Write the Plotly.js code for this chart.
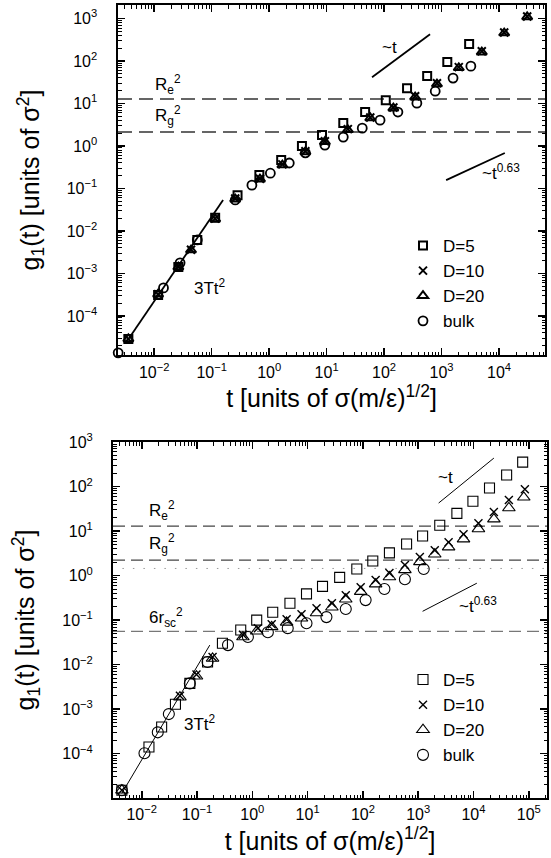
<!DOCTYPE html>
<html><head><meta charset="utf-8">
<script src="https://cdn.plot.ly/plotly-3.0.1.min.js"></script>
<style>html,body{margin:0;padding:0;background:#fff}</style>
</head><body><div id="chart" style="width:551px;height:858px"></div>
<script>
// ---------------- TOP PANEL DATA ----------------
const topD5_t  = [0.00355, 0.0117, 0.0263, 0.0562, 0.115, 0.282, 0.676, 1.62, 3.72, 8.32, 19.5, 46.8, 107, 251, 562, 1259, 3020];
const topD5_g  = [2.88e-5, 3.09e-4, 1.41e-3, 6.17e-3, 0.0204, 0.0692, 0.209, 0.468, 1.00, 1.82, 3.47, 6.31, 12.0, 22.9, 44.7, 95.5, 251];
const topD10_t = [0.00355, 0.0117, 0.0263, 0.0437, 0.115, 0.257, 0.692, 1.70, 4.27, 9.33, 23.4, 57.5, 145, 347, 832, 1995, 5012, 12300, 30900];
const topD10_g = [2.88e-5, 3.24e-4, 1.45e-3, 3.6e-3, 0.0195, 0.058, 0.17, 0.37, 0.75, 1.3, 2.5, 4.7, 8.1, 14.8, 30, 72, 170, 470, 1120];
const topD20_t = [0.00355, 0.0117, 0.0263, 0.0437, 0.115, 0.257, 0.692, 1.70, 4.27, 9.33, 23.4, 57.5, 145, 347, 832, 1995, 5012, 12300, 30900];
const topD20_g = [2.88e-5, 3.24e-4, 1.41e-3, 3.55e-3, 0.0191, 0.0562, 0.166, 0.355, 0.724, 1.26, 2.40, 4.57, 7.76, 14.1, 28.8, 69.2, 162, 457, 1096];
const topBulk_t = [0.00236, 0.0145, 0.0282, 0.0562, 0.257, 0.501, 1.05, 2.24, 4.27, 9.33, 19.5, 41.7, 85.1, 174, 372, 776, 1585, 3236];
const topBulk_g = [1.35e-5, 4.57e-4, 1.78e-3, 6.17e-3, 0.0537, 0.120, 0.229, 0.398, 0.692, 1.05, 1.62, 2.63, 4.07, 6.31, 10.2, 19.5, 39.8, 75.9];
const topFit_t  = [0.0038, 0.158];      const topFit_g  = [3.24e-5, 0.0537];   // 3Tt^2
const topSlope1_t = [61.7, 631];       const topSlope1_g = [41.7, 427];       // ~t
const topSlope063_t = [1202, 12600];   const topSlope063_g = [0.158, 0.684];  // ~t^0.63
const topRe2 = 12.8, topRg2 = 2.14;

// ---------------- BOTTOM PANEL DATA ----------------
const botD5_t  = [0.00437, 0.0135, 0.0229, 0.0407, 0.0741, 0.155, 0.288, 0.617, 1.20, 2.34, 4.79, 9.55, 18.6, 38.0, 77.6, 151, 302, 617, 1202, 2455, 5012, 9772, 19500, 39800, 77600];
const botD5_g  = [1.51e-5, 1.41e-4, 3.98e-4, 1.29e-3, 3.80e-3, 0.0115, 0.0302, 0.0603, 0.100, 0.151, 0.240, 0.389, 0.575, 0.912, 1.41, 2.14, 3.24, 5.13, 7.76, 13.5, 25.1, 46.8, 93.3, 182, 355];
const botD10_t = [0.00437, 0.049, 0.0977, 0.191, 0.676, 1.26, 2.24, 4.17, 7.76, 14.5, 27.5, 49.0, 91.2, 170, 302, 575, 1072, 1995, 3548, 6607, 12300, 23400, 43700, 85100];
const botD10_g = [1.51e-5, 2.0e-3, 6.03e-3, 0.0148, 0.0468, 0.0661, 0.0813, 0.105, 0.135, 0.186, 0.240, 0.363, 0.550, 0.794, 1.15, 1.74, 2.63, 3.72, 5.62, 8.51, 15.1, 26.9, 50.1, 87.1];
const botD20_t = [0.00437, 0.049, 0.0977, 0.191, 0.676, 1.20, 2.24, 4.17, 7.76, 14.5, 27.5, 49.0, 91.2, 170, 302, 575, 1072, 1995, 3548, 6607, 12300, 23400, 43700, 81300];
const botD20_g = [1.51e-5, 1.86e-3, 5.5e-3, 0.0138, 0.0417, 0.0562, 0.0708, 0.0891, 0.110, 0.145, 0.195, 0.295, 0.437, 0.646, 0.933, 1.35, 2.04, 3.02, 4.37, 6.61, 11.2, 18.6, 33.1, 57.5];
const botBulk_t = [0.00437, 0.0112, 0.0195, 0.0309, 0.0741, 0.155, 0.363, 0.832, 1.91, 4.37, 9.55, 21.9, 49.0, 112, 245, 575, 1259];
const botBulk_g = [1.51e-5, 1.02e-4, 3.02e-4, 7.76e-4, 3.80e-3, 0.0115, 0.0275, 0.0417, 0.0537, 0.0661, 0.0851, 0.117, 0.178, 0.282, 0.501, 0.832, 1.41];
const botFit_t  = [0.00437, 0.170];    const botFit_g  = [1.29e-5, 0.0275];
const botSlope1_t = [2344, 23400];     const botSlope1_g = [42.7, 437];
const botSlope063_t = [1202, 11500];   const botSlope063_g = [0.158, 0.676];
const botRe2 = 12.9, botRg2 = 2.24, botDotted = 1.45, bot6rsc2 = 0.056;

const seriesNames = ['D=5', 'D=10', 'D=20', 'bulk'];
const tickAlias = {'1': '10<sup>0</sup>', '10': '10<sup>1</sup>'};

// ---------------- LAYOUT GEOMETRY ----------------
const W = 551, H = 858;
const FONT = 'Liberation Sans, Arial, Helvetica, sans-serif';
const topXR = [-2.63, 4.80], topYR = [-4.92, 3.32];
const botXR = [-2.52, 5.33], botYR = [-4.995, 3.002];

function sym(name, xs, ys, xa, ya, leg, symbol, size, lw, noclip) {
  return {x: xs, y: ys, xaxis: xa, yaxis: ya, legend: leg, name: name, type: 'scatter', mode: 'markers',
    cliponaxis: !noclip,
    marker: {symbol: symbol, size: size, color: '#000', line: {color: '#000', width: lw}}};
}
function line(xs, ys, xa, ya, color, width, dash) {
  return {x: xs, y: ys, xaxis: xa, yaxis: ya, type: 'scatter', mode: 'lines', showlegend: false,
    hoverinfo: 'skip', line: {color: color, width: width, dash: dash || 'solid'}};
}
function hline(level, xr, xa, ya, color, width, dash) {
  return line([Math.pow(10, xr[0]), Math.pow(10, xr[1])], [level, level], xa, ya, color, width, dash);
}

const traces = [
  hline(topRe2, topXR, 'x', 'y', '#333', 1.5, '14px,7px'),
  hline(topRg2, topXR, 'x', 'y', '#333', 1.5, '14px,7px'),
  line(topFit_t, topFit_g, 'x', 'y', '#000', 1.8),
  line(topSlope1_t, topSlope1_g, 'x', 'y', '#000', 1.8),
  line(topSlope063_t, topSlope063_g, 'x', 'y', '#000', 1.8),
  sym(seriesNames[0], topD5_t, topD5_g, 'x', 'y', 'legend', 'square-open', 8, 2),
  sym(seriesNames[1], topD10_t, topD10_g, 'x', 'y', 'legend', 'x-thin-open', 8, 2),
  sym(seriesNames[2], topD20_t, topD20_g, 'x', 'y', 'legend', 'triangle-up-open', 9, 2),
  sym(seriesNames[3], topBulk_t, topBulk_g, 'x', 'y', 'legend', 'circle-open', 9, 1.8, true),

  hline(botRe2, botXR, 'x2', 'y2', '#444', 1.2, '12px,6px'),
  hline(botRg2, botXR, 'x2', 'y2', '#444', 1.2, '12px,6px'),
  hline(botDotted, [-2.35, botXR[1]], 'x2', 'y2', '#999', 1, '1.5px,9px'),
  hline(bot6rsc2, botXR, 'x2', 'y2', '#777', 1.2, '12px,6px'),
  line(botFit_t, botFit_g, 'x2', 'y2', '#000', 1),
  line(botSlope1_t, botSlope1_g, 'x2', 'y2', '#000', 1),
  line(botSlope063_t, botSlope063_g, 'x2', 'y2', '#000', 1),
  sym(seriesNames[0], botD5_t, botD5_g, 'x2', 'y2', 'legend2', 'square-open', 10, 1.1),
  sym(seriesNames[1], botD10_t, botD10_g, 'x2', 'y2', 'legend2', 'x-thin-open', 8, 1.4),
  sym(seriesNames[2], botD20_t, botD20_g, 'x2', 'y2', 'legend2', 'triangle-up-open', 11, 1.1),
  sym(seriesNames[3], botBulk_t, botBulk_g, 'x2', 'y2', 'legend2', 'circle-open', 11, 1.1)
];

function axis(range, dom, anchor, title, isX, lw) {
  return {
    type: 'log', range: range, domain: dom, anchor: anchor,
    showline: true, linecolor: '#000', linewidth: lw, mirror: 'allticks',
    ticks: 'inside', ticklen: 7, tickwidth: 1.5, tickcolor: '#000',
    dtick: 1, exponentformat: 'power', labelalias: tickAlias,
    showgrid: false, zeroline: false,
    minor: {ticks: 'inside', ticklen: 3.5, tickwidth: 1, tickcolor: '#000', showgrid: false},
    tickfont: {family: FONT, size: 12.8, color: '#000'},
    ticklabelstandoff: isX ? 2 : 16,
    title: {text: title, font: {family: FONT, size: 25, color: '#000'}, standoff: isX ? 0 : 20},
    fixedrange: true
  };
}
const yTitle = 'g<sub>1</sub>(t) [units of σ<sup>2</sup>]';
const xTitle = '\u00a0\u00a0\u00a0\u00a0t [units of σ(m/ε)<sup>1/2</sup>]';

function ann(text, x, y, xr, yr, xanchor) {
  return {text: text, x: x, y: y, xref: xr, yref: yr, xanchor: xanchor || 'left', yanchor: 'middle',
    showarrow: false, font: {family: FONT, size: 17, color: '#000'}};
}
const annotations = [
  ann('R<sub>e</sub><sup>2</sup>', -2.02, 1.44, 'x', 'y'),
  ann('R<sub>g</sub><sup>2</sup>', -2.02, 0.73, 'x', 'y'),
  ann('~t', 1.93, 2.33, 'x', 'y'),
  ann('~t<sup>0.63</sup>', 4.40, -0.61, 'x', 'y', 'right'),
  ann('3Tt<sup>2</sup>', -1.34, -3.32, 'x', 'y'),
  ann('R<sub>e</sub><sup>2</sup>', -1.91, 1.47, 'x2', 'y2'),
  ann('R<sub>g</sub><sup>2</sup>', -1.91, 0.73, 'x2', 'y2'),
  ann('6r<sub>sc</sub><sup>2</sup>', -1.91, -0.93, 'x2', 'y2'),
  ann('~t', 3.33, 2.21, 'x2', 'y2'),
  ann('~t<sup>0.63</sup>', 3.70, -0.66, 'x2', 'y2'),
  ann('3Tt<sup>2</sup>', -1.28, -3.31, 'x2', 'y2')
];

const legendBase = {xanchor: 'left', yanchor: 'top', bgcolor: 'rgba(0,0,0,0)', borderwidth: 0,
  font: {family: FONT, size: 17, color: '#000'}, itemsizing: 'trace', itemclick: false, itemdoubleclick: false};

const layout = {
  width: W, height: H, margin: {l: 0, r: 0, t: 0, b: 0},
  paper_bgcolor: '#fff', plot_bgcolor: '#fff', showlegend: true,
  xaxis: axis(topXR, [118 / W, 545 / W], 'y', xTitle, true, 2.2),
  yaxis: axis(topYR, [1 - 355 / H, 1 - 5 / H], 'x', yTitle, false, 2.2),
  xaxis2: axis(botXR, [113 / W, 547 / W], 'y2', xTitle, true, 1.6),
  yaxis2: axis(botYR, [1 - 798 / H, 1 - 442 / H], 'x2', yTitle, false, 1.6),
  legend: Object.assign({x: 403 / W, y: 1 - 228 / H}, legendBase),
  legend2: Object.assign({x: 403 / W, y: 1 - 662 / H}, legendBase),
  annotations: annotations
};

Plotly.newPlot('chart', traces, layout, {displayModeBar: false, staticPlot: true});
</script>
</body></html>
